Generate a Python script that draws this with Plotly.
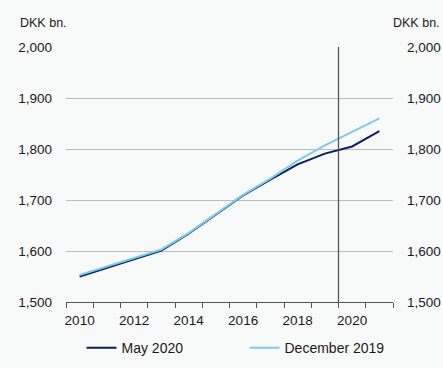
import plotly.graph_objects as go

# Annual values, DKK bn.
years = [2010, 2011, 2012, 2013, 2014, 2015, 2016, 2017, 2018, 2019, 2020, 2021]
may_2020 = [1550, 1567, 1584, 1601, 1634, 1672, 1709, 1740, 1770, 1791, 1805, 1835]
december_2019 = [1553, 1570, 1587, 1603, 1635, 1672, 1710, 1742, 1777, 1807, 1833, 1860]

forecast_start = 2019.5
y_range = [1500, 2000]
y_ticks = [1500, 1600, 1700, 1800, 1900, 2000]
x_ticks = [2010, 2012, 2014, 2016, 2018, 2020]

NAVY = "#0c1f64"
LIGHT_BLUE = "#7ccbe9"
BG = "#f8f9f9"
TEXT = "#1a1a1a"
AXIS = "#555555"
FONT = "Liberation Sans, Arial, sans-serif"

fig = go.Figure()
fig.add_trace(go.Scatter(x=years, y=may_2020, mode="lines", name="May 2020",
                         line=dict(color=NAVY, width=2)))
fig.add_trace(go.Scatter(x=years, y=december_2019, mode="lines", name="December 2019",
                         line=dict(color=LIGHT_BLUE, width=2)))
# mirror axis on the right
fig.add_trace(go.Scatter(x=years, y=december_2019, mode="lines", yaxis="y2",
                         line=dict(color="rgba(0,0,0,0)"), showlegend=False,
                         hoverinfo="skip"))

fig.add_shape(type="line", x0=forecast_start, x1=forecast_start, y0=0, y1=1,
              xref="x", yref="paper", line=dict(color=AXIS, width=1.3))

fig.update_layout(
    width=443, height=368,
    margin=dict(l=66, r=50, t=47, b=66, autoexpand=False),
    paper_bgcolor=BG, plot_bgcolor=BG,
    font=dict(family=FONT, size=13.5, color=TEXT),
    showlegend=True,
    legend=dict(orientation="h", xref="container", yref="container",
                x=0.184, xanchor="left", y=0.054, yanchor="middle",
                entrywidth=118, entrywidthmode="pixels",
                font=dict(size=14), bgcolor="rgba(0,0,0,0)"),
    xaxis=dict(range=[2009.5, 2021.5], tickvals=x_ticks, ticks="",
               showgrid=False, zeroline=False, automargin=False,
               showline=True, linecolor=AXIS, linewidth=1.3,
               ticklabelstandoff=6,
               minor=dict(tick0=2009.5, dtick=1, ticks="outside", ticklen=5,
                          tickcolor=AXIS, tickwidth=1.3, showgrid=False)),
    yaxis=dict(range=y_range, tickvals=y_ticks, tickformat=",",
               showgrid=True, gridcolor="#bbbbbb", gridwidth=1,
               zeroline=False, showline=False, automargin=False,
               ticks="", ticklabelstandoff=13),
    yaxis2=dict(range=y_range, tickvals=y_ticks, tickformat=",",
                overlaying="y", side="right", showgrid=False, zeroline=False,
                showline=False, automargin=False,
                ticks="", ticklabelstandoff=13),
    annotations=[
        dict(text="DKK bn.", xref="paper", yref="paper", x=-0.147, y=1.06,
             xanchor="left", yanchor="bottom", showarrow=False,
             font=dict(size=12.5, color=TEXT)),
        dict(text="DKK bn.", xref="paper", yref="paper", x=1.15, y=1.06,
             xanchor="right", yanchor="bottom", showarrow=False,
             font=dict(size=12.5, color=TEXT)),
    ],
)

fig.write_html("out.html")
